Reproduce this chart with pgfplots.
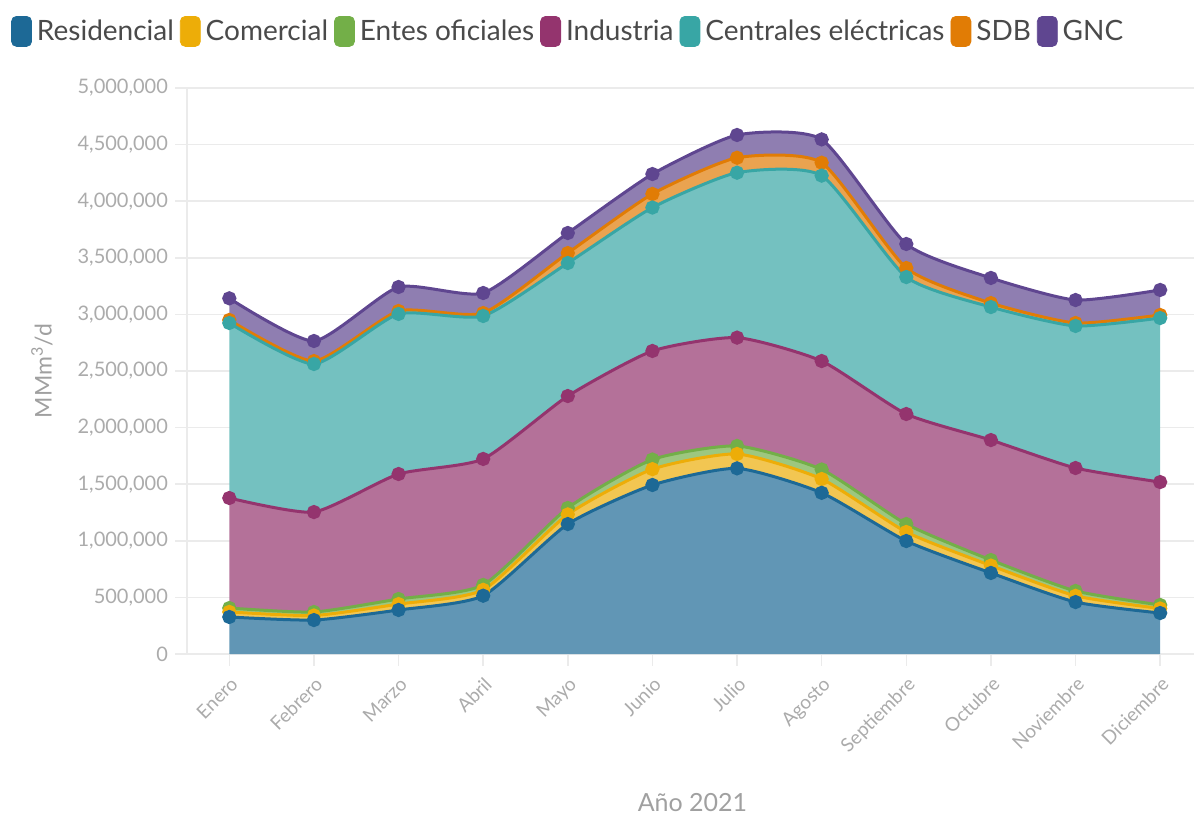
\documentclass[border=0pt]{standalone}
\usepackage{pgfplots}
\pgfplotsset{compat=1.18}
\usepackage{pgfplotstable}
\usepackage{fontspec}
\setmainfont{Lato}

\definecolor{cRes}{HTML}{1D6996}
\definecolor{cCom}{HTML}{EDAD08}
\definecolor{cEnt}{HTML}{73AF48}
\definecolor{cInd}{HTML}{94346E}
\definecolor{cCen}{HTML}{38A6A5}
\definecolor{cSDB}{HTML}{E17C05}
\definecolor{cGNC}{HTML}{5F4690}
\definecolor{gridc}{HTML}{EBEBEB}
\definecolor{tickc}{HTML}{ABABAB}
\definecolor{labc}{HTML}{A0A0A0}
\definecolor{legc}{HTML}{4A4A4A}

% consumo por sector (m3/d), un valor por mes
\pgfplotstableread{
x res com ent ind cen sdb gnc
0 327000 45000 34000 972000 1546000 27000 191000
1 300000 40000 31000 883000 1308000 26000 177000
2 389000 52000 45000 1104000 1414000 26000 212000
3 515000 52000 43000 1113000 1263000 26000 177000
4 1148000 85000 57000 989000 1175000 88000 177000
5 1493000 140000 85000 959000 1267000 120000 176000
6 1640000 127000 71000 957000 1457000 132000 201000
7 1424000 122000 84000 958000 1638000 114000 206000
8 998000 80000 70000 972000 1210000 80000 212000
9 716000 65000 49000 1060000 1175000 35000 222000
10 459000 55000 43000 1086000 1255000 26000 203000
11 362000 40000 31000 1086000 1449000 27000 221000
}\datatable

\pgfplotsset{
  base/.style={
    width=503.5pt, height=283pt, scale only axis,
    xmin=-0.5, xmax=11.4, ymin=0, ymax=5000000,
    at={(0,0)}, anchor=south west,
    stack plots=y,
  },
  sw/.style={legend image code/.code={%
    \fill[#1, rounded corners=2.5pt] (0pt,-7.5pt) rectangle (10pt,7.5pt);}},
  ar/.style={draw=none, fill=#1!70!white, smooth, tension=0.35, forget plot},
  ln/.style={#1, line width=1.5pt, smooth, tension=0.35, mark=*, mark size=2.8pt,
    mark options={solid, fill=#1, draw=#1}},
}

\begin{document}
\begin{tikzpicture}
\path[use as bounding box] (-93.5pt,-81pt) rectangle (503.5pt,327pt);

\begin{axis}[base,
  axis lines=left,
  axis line style={-, draw=gridc, line width=0.75pt},
  ymajorgrids, grid style={gridc, line width=0.75pt},
  tick style={draw=gridc, line width=0.75pt},
  tick align=outside, major tick length=6pt,
  ytick={0,500000,1000000,1500000,2000000,2500000,3000000,3500000,4000000,4500000,5000000},
  scaled y ticks=false,
  /pgf/number format/assume math mode=true,
  y tick label style={/pgf/number format/fixed, /pgf/number format/1000 sep={,},
    font=\fontsize{10}{11}\selectfont, text=tickc},
  xtick={0,1,2,3,4,5,6,7,8,9,10,11},
  xticklabels={Enero,Febrero,Marzo,Abril,Mayo,Junio,Julio,Agosto,Septiembre,Octubre,Noviembre,Diciembre},
  x tick label style={rotate=45, anchor=north east, font=\fontsize{9.5}{10}\selectfont, text=tickc},
  xlabel={Año 2021},
  ylabel={MMm\textsuperscript{3}/d},
  x label style={at={(axis description cs:0.502,-0.262)}, anchor=center,
    font=\fontsize{12.5}{13}\selectfont, text=labc},
  y label style={at={(axis description cs:-0.144,0.5)}, anchor=center,
    font=\fontsize{11.5}{12}\selectfont, text=labc},
  legend style={at={(-0.175,1.1)}, anchor=west, draw=none, fill=none,
    font=\fontsize{14}{16}\selectfont, text=legc, inner sep=0pt,
    /tikz/every odd column/.append style={column sep=0.5pt},
    /tikz/every even column/.append style={column sep=1pt}},
  legend columns=7, legend cell align=left,
]
\addlegendimage{sw=cRes}\addlegendentry{Residencial}
\addlegendimage{sw=cCom}\addlegendentry{Comercial}
\addlegendimage{sw=cEnt}\addlegendentry{Entes oficiales}
\addlegendimage{sw=cInd}\addlegendentry{Industria}
\addlegendimage{sw=cCen}\addlegendentry{Centrales eléctricas}
\addlegendimage{sw=cSDB}\addlegendentry{SDB}
\addlegendimage{sw=cGNC}\addlegendentry{GNC}

\addplot[ar=cRes] table[x=x,y=res]{\datatable} \closedcycle;
\addplot[ar=cCom] table[x=x,y=com]{\datatable} \closedcycle;
\addplot[ar=cEnt] table[x=x,y=ent]{\datatable} \closedcycle;
\addplot[ar=cInd] table[x=x,y=ind]{\datatable} \closedcycle;
\addplot[ar=cCen] table[x=x,y=cen]{\datatable} \closedcycle;
\addplot[ar=cSDB] table[x=x,y=sdb]{\datatable} \closedcycle;
\addplot[ar=cGNC] table[x=x,y=gnc]{\datatable} \closedcycle;
\end{axis}

\begin{axis}[base, axis lines=none, clip=false]
\addplot[ln=cRes] table[x=x,y=res]{\datatable};
\addplot[ln=cCom] table[x=x,y=com]{\datatable};
\addplot[ln=cEnt] table[x=x,y=ent]{\datatable};
\addplot[ln=cInd] table[x=x,y=ind]{\datatable};
\addplot[ln=cCen] table[x=x,y=cen]{\datatable};
\addplot[ln=cSDB] table[x=x,y=sdb]{\datatable};
\addplot[ln=cGNC] table[x=x,y=gnc]{\datatable};
\end{axis}
\end{tikzpicture}
\end{document}
